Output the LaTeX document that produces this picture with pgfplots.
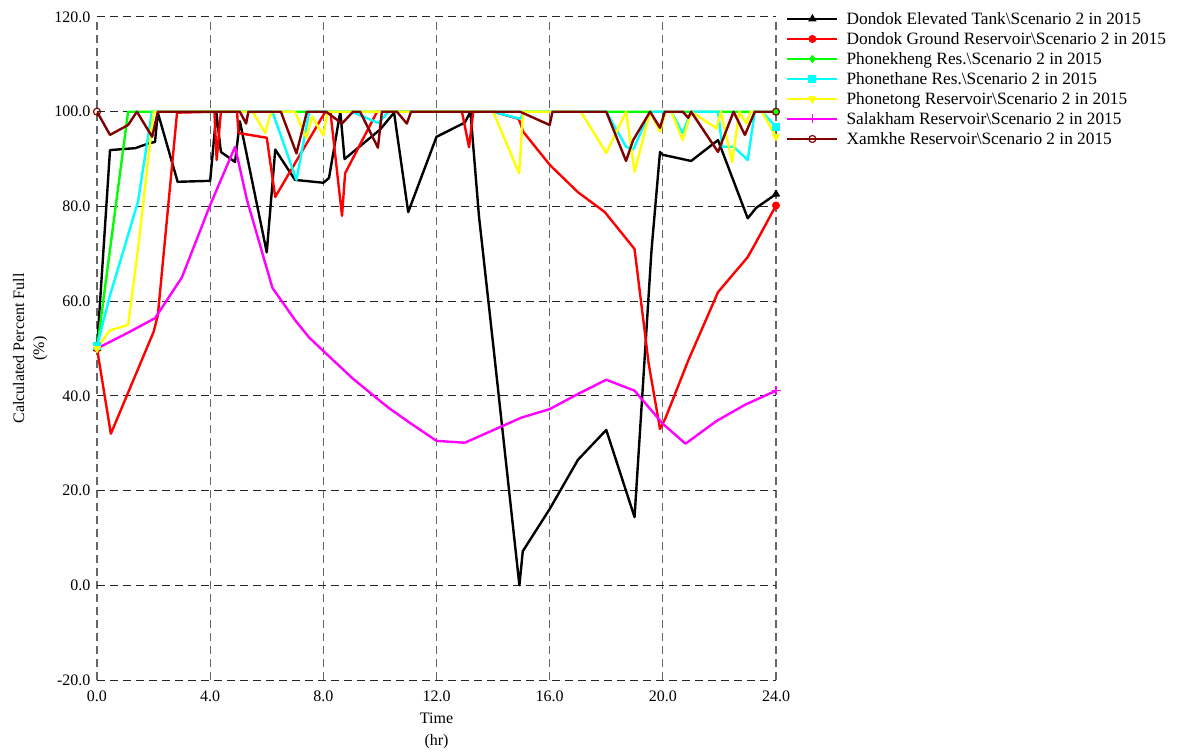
\documentclass[border=0pt]{standalone}
\usepackage{pgfplots}
\pgfplotsset{compat=1.18}
\usepackage{fontspec}
\setmainfont{Liberation Serif}
\definecolor{xbrown}{RGB}{128,0,0}
\definecolor{xgreen}{RGB}{0,255,0}
\definecolor{xcyan}{RGB}{0,255,255}
\definecolor{xyellow}{RGB}{255,255,0}
\definecolor{xmag}{RGB}{255,0,255}
\definecolor{xred}{RGB}{255,0,0}
\begin{document}
\begin{tikzpicture}
\begin{axis}[
  name=ax,
  width=679pt, height=663pt, scale only axis,
  xmin=0, xmax=24, ymin=-20, ymax=120,
  xtick={0,4,...,24}, ytick={-20,0,...,120},
  major tick length=0pt,
  axis line style={draw=none},
  grid=major,
  x grid style={black!60, dash pattern=on 8pt off 5pt, line width=1.1pt},
  y grid style={black!85, dash pattern=on 8pt off 5pt, line width=1pt},
  font=\fontsize{16}{19}\selectfont,
  ticklabel style={font=\fontsize{16}{19}\selectfont},
  /pgf/number format/assume math mode=true,
  xticklabel style={yshift=-7pt, /pgf/number format/.cd, fixed, fixed zerofill, precision=1},
  yticklabel style={xshift=-3pt, /pgf/number format/.cd, fixed, fixed zerofill, precision=1},
  xlabel={Time\\(hr)},
  xlabel style={align=center, yshift=-5pt, font=\fontsize{16}{22}\selectfont},
  ylabel={Calculated Percent Full\\(\%)},
  ylabel style={align=center, font=\fontsize{16}{20}\selectfont},
  legend cell align=left,
  legend image code/.code={\draw[mark repeat=2,mark phase=2,#1] plot coordinates {(0pt,0pt) (25pt,0pt) (50pt,0pt)}; \path (56pt,0pt);},
  legend style={at={(1,1)}, anchor=north west, xshift=10pt, yshift=7pt, draw=none, fill=none,
    font=\fontsize{17.3}{18}\selectfont, row sep=2.5pt, inner sep=0pt},
]
% Dondok Elevated Tank
\addplot[black, line width=2.4pt, line join=round, forget plot, mark=triangle*, mark size=4pt, mark options={line width=1pt}, mark indices={1,41}] coordinates {
(0,50)(0.46,91.9)(1.35,92.3)(1.87,93.4)(2.05,93.6)(2.15,99.8)(2.85,85.2)(4.0,85.4)(4.22,99.8)(4.38,91.5)
(4.88,89.4)(5.05,98)(6.0,70.3)(6.3,92)(7.0,85.6)(8.0,85)(8.2,86)(8.6,100)(8.75,90)(10.0,96.2)
(10.5,99.8)(11.0,78.8)(12.0,94.7)(13.0,97.7)(13.2,100)(13.5,78)(14.0,51)(14.93,0)(15.05,7.2)(16.0,16.1)
(17.0,26.5)(18.0,32.8)(19.0,14.4)(19.6,70.8)(19.9,91.5)(20.0,90.9)(21.0,89.6)(21.95,94)(23.0,77.5)(23.3,79.7)
(24,82.6)};
% Dondok Ground Reservoir
\addplot[xred, line width=2.4pt, line join=round, forget plot, mark=*, mark size=3.5pt, mark options={line width=1pt}, mark indices={1,36}] coordinates {
(0,50)(0.49,32)(2.0,53.5)(2.15,57)(2.83,99.8)(4.15,100)(4.23,89.8)(4.38,100)(4.95,100)(5.0,95.5)
(6.0,94.5)(6.3,82)(8.05,99.8)(8.25,100)(8.66,78)(8.77,87)(9.9,100)(12.9,100)(13.15,92.5)(13.3,100)
(14.0,100)(14.9,98.5)(14.97,97.5)(15.06,95.8)(16.0,88.8)(17.0,83)(17.95,78.8)(19.0,71)(19.5,46.8)(19.9,33)
(20.1,35.4)(20.9,47.5)(21.95,61.9)(23.0,69.3)(23.3,72.5)(24,80.2)};
% Phonekheng
\addplot[xgreen, line width=2.4pt, line join=round, forget plot, mark=diamond*, mark size=3.5pt, mark options={line width=1pt}, mark indices={1,3}] coordinates {
(0,50)(1.1,100)(24,100)};
% Phonethane
\addplot[xcyan, line width=2.4pt, line join=round, forget plot, mark=square*, mark size=3.5pt, mark options={line width=1pt}, mark indices={1,28}] coordinates {
(0,50.5)(0.45,61)(0.95,71)(1.45,81)(1.94,100)(6.2,100)(7.05,85.6)(7.5,100)(9.0,100)(9.95,97.6)
(10.3,100)(14.0,100)(14.95,98.5)(15.1,100)(18.0,100)(18.7,92.6)(18.95,92)(19.55,100)(20.3,100)(20.7,95.5)
(21.0,100)(21.95,100)(22.1,92.6)(22.5,92.6)(23.0,89.8)(23.25,100)(23.5,100)(24,96.8)};
% Phonetong
\addplot[xyellow, line width=2.4pt, line join=round, forget plot, mark=triangle*, mark options={rotate=180, line width=1pt}, mark size=4pt, mark indices={1,36}] coordinates {
(0,50)(0.45,53.8)(1.1,55)(1.45,71)(2.0,100)(5.5,100)(5.95,95.5)(6.1,99)(6.2,100)(7.0,100)
(7.4,94.5)(7.6,99)(8.0,95)(8.15,100)(14.0,100)(14.92,87)(15.06,100)(17.1,100)(18.0,91.3)(18.7,100)
(19.0,87.3)(19.55,100)(19.9,95.8)(20.1,100)(20.3,100)(20.7,94)(21.0,100)(21.9,96.5)(22.05,100)(22.45,89.4)
(22.7,100)(22.95,97.5)(23.1,100)(23.3,100)(23.5,100)(24,94.7)};
% Salakham
\addplot[xmag, line width=2.4pt, line join=round, forget plot, mark=+, mark size=4.5pt, mark options={line width=1.2pt}, mark indices={26}] coordinates {
(0,50)(1.05,53.2)(2.05,56.4)(3.0,65)(4.0,80.3)(4.88,92.6)(5.3,81.4)(6.2,62.8)(7.0,56)(7.5,52.3)
(8.05,49.2)(9.05,43.6)(10.3,37.5)(11.06,34.3)(12.0,30.5)(13.0,30.1)(15.0,35.4)(16.0,37.2)(17.0,40.4)(18.0,43.4)
(19.0,41.1)(20.0,34.1)(20.8,29.9)(21.9,34.7)(22.9,38.1)(24,41.1)};
% Xamkhe
\addplot[xbrown, line width=2.4pt, line join=round, forget plot, mark=o, mark size=3.5pt, mark options={line width=1.2pt}, mark indices={1,38}] coordinates {
(0,100)(0.46,95.1)(1.1,97.2)(1.41,100)(1.95,94.7)(2.15,100)(5.05,100)(5.27,97.5)(5.35,100)(6.5,100)
(7.05,91.2)(7.42,100)(8.1,100)(8.66,97.5)(9.05,100)(9.3,100)(9.93,92.4)(10.07,100)(10.6,100)(10.95,97.5)
(11.1,100)(14.95,100)(16.0,97.2)(16.1,100)(18.0,100)(18.7,89.6)(18.95,94)(19.55,100)(19.9,96.6)(20.07,100)
(20.7,100)(20.9,98.7)(21.0,100)(21.95,91.5)(22.5,100)(22.9,95.1)(23.25,100)(24,100)};

\addlegendimage{black, line width=2.4pt, mark=triangle*, mark size=4pt, mark options={line width=1pt}}
\addlegendentry{Dondok Elevated Tank\textbackslash Scenario 2 in 2015}
\addlegendimage{xred, line width=2.4pt, mark=*, mark size=3.5pt, mark options={line width=1pt}}
\addlegendentry{Dondok Ground Reservoir\textbackslash Scenario 2 in 2015}
\addlegendimage{xgreen, line width=2.4pt, mark=diamond*, mark size=3.5pt, mark options={line width=1pt}}
\addlegendentry{Phonekheng Res.\textbackslash Scenario 2 in 2015}
\addlegendimage{xcyan, line width=2.4pt, mark=square*, mark size=3.5pt, mark options={line width=1pt}}
\addlegendentry{Phonethane Res.\textbackslash Scenario 2 in 2015}
\addlegendimage{xyellow, line width=2.4pt, mark=triangle*, mark options={rotate=180, line width=1pt}, mark size=4pt}
\addlegendentry{Phonetong Reservoir\textbackslash Scenario 2 in 2015}
\addlegendimage{xmag, line width=2.4pt, mark=+, mark size=4.5pt, mark options={line width=1.2pt}}
\addlegendentry{Salakham Reservoir\textbackslash Scenario 2 in 2015}
\addlegendimage{xbrown, line width=2.4pt, mark=o, mark size=3.5pt, mark options={line width=1.2pt}}
\addlegendentry{Xamkhe Reservoir\textbackslash Scenario 2 in 2015}
\end{axis}
\path ([xshift=-97pt,yshift=-71pt]ax.south west) rectangle ([xshift=403pt,yshift=17pt]ax.north east);
\end{tikzpicture}
\end{document}
